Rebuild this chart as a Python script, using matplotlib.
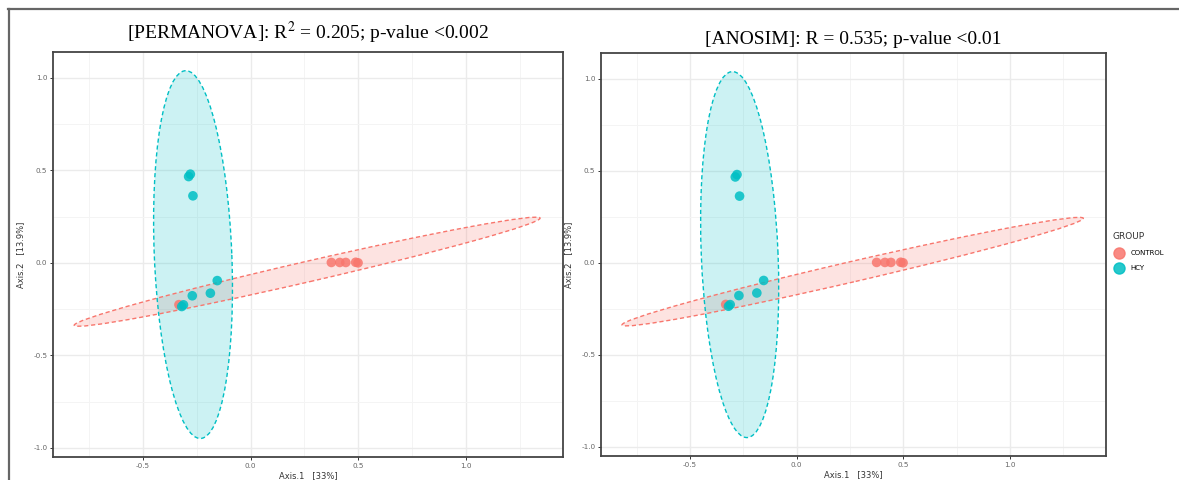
import matplotlib.pyplot as plt
import numpy as np
from matplotlib.patches import Ellipse
from matplotlib.lines import Line2D

plt.rcParams['font.family'] = ['DejaVu Sans']
plt.rcParams['mathtext.fontset'] = 'stix'

# ordination coordinates
control_x = [0.375, 0.414, 0.442, 0.488, 0.499, -0.333]
control_y = [0.002, 0.002, 0.002, 0.003, 0.000, -0.226]
hcy_x = [-0.288, -0.280, -0.268, -0.155, -0.187, -0.271, -0.312, -0.320]
hcy_y = [0.466, 0.479, 0.362, -0.096, -0.164, -0.178, -0.227, -0.236]

# confidence ellipses: center x, center y, full width, full height, angle (deg)
control_ellipse = [0.2625, -0.048, 2.24, 0.11, 15.0]
hcy_ellipse = [-0.2675, 0.0445, 1.988, 0.36, 92.0]

groups = ["CONTROL", "HCY"]
colors = {"CONTROL": "#F8766D", "HCY": "#00BFC4"}

titles = ["[PERMANOVA]: R$^{2}$ = 0.205; p-value <0.002",
          "[ANOSIM]: R = 0.535; p-value <0.01"]
x_label = "Axis.1   [33%]"
y_label = "Axis.2   [13.9%]"

fig = plt.figure(figsize=(11.79, 4.8), dpi=100)

axes_pos = [[53 / 1179, 1 - 457 / 480, 510 / 1179, 405 / 480],
            [601 / 1179, 1 - 456 / 480, 505 / 1179, 403 / 480]]
title_pos = [(308 / 1179, 1 - 33 / 480), (853 / 1179, 1 - 40 / 480)]

points = {"CONTROL": (control_x, control_y), "HCY": (hcy_x, hcy_y)}
ellipses = {"CONTROL": control_ellipse, "HCY": hcy_ellipse}

for pos, title, tpos in zip(axes_pos, titles, title_pos):
    ax = fig.add_axes(pos)
    for group in groups:
        cx, cy, w, h, ang = ellipses[group]
        ax.add_patch(Ellipse((cx, cy), w, h, angle=ang,
                             facecolor=colors[group], alpha=0.2,
                             edgecolor="none", zorder=2))
        ax.add_patch(Ellipse((cx, cy), w, h, angle=ang,
                             facecolor="none", edgecolor=colors[group],
                             linestyle=(0, (3, 2)), linewidth=1.0, zorder=3))
    for group in groups:
        gx, gy = points[group]
        ax.scatter(gx, gy, s=48, color=colors[group], alpha=0.85,
                   edgecolors="none", zorder=4, label=group)

    ax.set_xlim(-0.918, 1.451)
    ax.set_ylim(-1.049, 1.139)
    ax.set_xticks([-0.5, 0.0, 0.5, 1.0])
    ax.set_xticklabels(["-0.5", "0.0", "0.5", "1.0"])
    ax.set_yticks([-1.0, -0.5, 0.0, 0.5, 1.0])
    ax.set_yticklabels(["-1.0", "-0.5", "0.0", "0.5", "1.0"])
    ax.set_xticks([-0.75, -0.25, 0.25, 0.75, 1.25], minor=True)
    ax.set_yticks([-0.75, -0.25, 0.25, 0.75], minor=True)
    ax.grid(which="major", color="#EBEBEB", linewidth=1.0, zorder=0)
    ax.grid(which="minor", color="#F4F4F4", linewidth=0.7, zorder=0)
    ax.set_axisbelow(True)
    ax.tick_params(which="major", length=2.5, width=0.7, color="#333333",
                   labelsize=5.2, labelcolor="#666666", pad=1.5)
    ax.tick_params(which="minor", length=0)
    for spine in ax.spines.values():
        spine.set_color("#444444")
        spine.set_linewidth(1.3)
    ax.set_xlabel(x_label, fontsize=6, color="#333333", labelpad=2)
    ax.set_ylabel(y_label, fontsize=6, color="#333333", labelpad=6)

    fig.text(tpos[0], tpos[1], title, ha="center", va="center",
             fontsize=14, family="Liberation Serif")

# legend on the right
handles = [Line2D([], [], marker="o", linestyle="none", markersize=8,
                  color=colors[g], alpha=0.85) for g in groups]
leg = fig.legend(handles, groups, title="GROUP", loc="upper left",
                 bbox_to_anchor=(1106 / 1179, 1 - 226 / 480), frameon=False,
                 fontsize=5, title_fontsize=6.5, handletextpad=0.7,
                 labelspacing=1.3, borderpad=0.4, handlelength=1.9)
leg._legend_box.align = "left"
leg.get_title().set_color("#333333")

# outer frame lines of the screenshot
fig.add_artist(Line2D([8 / 1179, 1.0], [1 - 9 / 480, 1 - 9 / 480],
                      transform=fig.transFigure, color="#666666", linewidth=1.6))
fig.add_artist(Line2D([9 / 1179, 9 / 1179], [0.0, 1 - 9 / 480],
                      transform=fig.transFigure, color="#666666", linewidth=1.6))

plt.savefig("out.png", dpi=100)
